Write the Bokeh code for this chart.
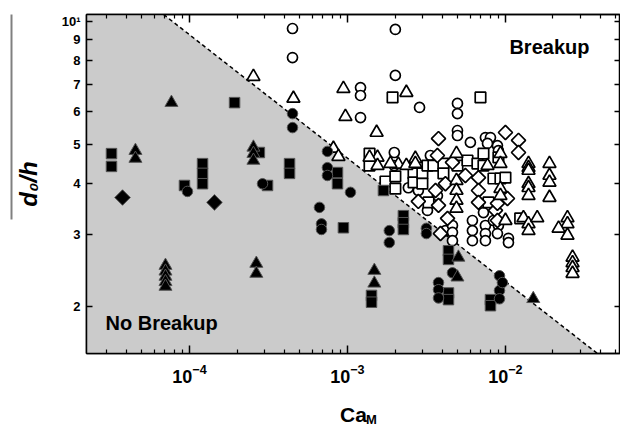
import numpy as np
from bokeh.plotting import figure
from bokeh.models import (FixedTicker, LogAxis, Range1d, Label, CustomJSTickFormatter)
from bokeh.embed import file_html
from bokeh.resources import INLINE

# ---------------- data (Ca_M, d0/h) ----------------
# No breakup (filled symbols)
nb_sq_ca = [3.21e-5, 3.21e-5, 9.30e-5, 1.21e-4, 1.21e-4, 1.21e-4, 1.93e-4, 2.77e-4, 3.12e-4,
            4.30e-4, 4.30e-4, 8.65e-4, 8.65e-4, 9.43e-4, 1.69e-3, 2.26e-3, 2.26e-3, 2.26e-3,
            1.42e-3, 1.42e-3, 4.36e-3, 4.36e-3, 4.36e-3, 4.36e-3, 8.04e-3, 8.04e-3]
nb_sq_d = [4.74, 4.41, 3.96, 4.48, 4.24, 4.00, 6.32, 4.77, 3.96,
           4.48, 4.24, 4.26, 4.00, 3.12, 3.85, 3.34, 3.21, 3.09,
           2.13, 2.05, 2.74, 2.61, 2.16, 2.08, 2.08, 2.01]

nb_ci_ca = [9.71e-5, 2.90e-4, 4.49e-4, 4.49e-4, 6.65e-4, 6.85e-4, 6.85e-4, 7.47e-4, 7.47e-4,
            7.47e-4, 1.045e-3, 1.84e-3, 1.84e-3, 3.16e-3, 3.16e-3, 4.62e-3, 3.77e-3, 3.77e-3,
            3.77e-3, 9.17e-3, 9.17e-3, 9.17e-3, 9.57e-3]
nb_ci_d = [3.83, 4.00, 5.94, 5.49, 3.50, 3.19, 3.09, 4.80, 4.38,
           4.19, 3.81, 3.07, 2.87, 3.11, 3.02, 2.42, 2.29, 2.20,
           2.10, 2.38, 2.19, 2.09, 2.29]

nb_tr_ca = [4.55e-5, 4.55e-5, 7.69e-5, 7.05e-5, 7.05e-5, 7.05e-5, 7.05e-5, 7.05e-5, 2.54e-4,
            2.54e-4, 2.54e-4, 2.65e-4, 2.65e-4, 1.48e-3, 1.48e-3, 5.04e-3, 4.97e-3, 1.50e-2]
nb_tr_d = [4.82, 4.61, 6.32, 2.52, 2.44, 2.37, 2.30, 2.24, 4.91,
           4.74, 4.56, 2.55, 2.41, 2.45, 2.28, 2.64, 2.36, 2.09]

nb_di_ca = [3.77e-5, 1.44e-4]
nb_di_d = [3.70, 3.60]

# Breakup (open symbols)
bu_ci_ca = [4.49e-4, 4.49e-4, 2.01e-3, 2.01e-3, 1.21e-3, 1.21e-3, 1.21e-3, 2.86e-3, 4.97e-3,
            4.97e-3, 4.97e-3, 4.97e-3, 6.00e-3, 7.47e-3, 8.04e-3, 8.90e-3, 9.03e-3, 7.70e-3,
            1.98e-3, 1.98e-3, 2.43e-3, 2.81e-3, 3.35e-3, 3.21e-3, 3.71e-3, 4.17e-3, 4.62e-3,
            4.62e-3, 4.62e-3, 6.18e-3, 6.18e-3, 6.18e-3, 7.26e-3, 7.47e-3, 7.47e-3, 7.47e-3,
            8.40e-3, 9.03e-3, 8.90e-3, 1.045e-2, 1.045e-2]
bu_ci_d = [9.60, 8.15, 9.55, 7.37, 6.88, 6.58, 5.81, 6.15, 6.29,
           5.94, 5.40, 5.25, 5.05, 5.19, 5.19, 4.96, 4.82, 5.02,
           4.77, 4.43, 3.91, 3.85, 4.69, 3.44, 3.74, 3.07, 3.16,
           3.04, 2.90, 3.25, 3.07, 2.90, 3.40, 3.16, 3.02, 2.90,
           3.25, 3.16, 3.02, 2.94, 2.87]

bu_sq_ca = [1.93e-3, 6.95e-3, 1.38e-3, 1.38e-3, 1.74e-3, 2.01e-3, 2.01e-3, 2.62e-3, 2.62e-3,
            2.98e-3, 2.98e-3, 3.21e-3, 3.50e-3, 4.05e-3, 4.05e-3, 3.26e-3, 4.97e-3, 5.75e-3,
            6.65e-3, 7.26e-3, 7.26e-3, 8.40e-3, 9.30e-3, 7.81e-3, 1.24e-2, 9.03e-3, 1.00e-2]
bu_sq_d = [6.51, 6.51, 4.74, 4.43, 4.05, 4.17, 3.89, 4.24, 4.03,
           4.24, 4.00, 4.43, 4.43, 4.48, 4.24, 3.60, 4.43, 4.56,
           4.48, 4.74, 4.43, 4.12, 4.12, 3.60, 3.29, 4.64, 4.14]

bu_tr_ca = [2.54e-4, 4.55e-4, 9.43e-4, 9.71e-4, 2.36e-3, 1.53e-3, 8.15e-4, 8.77e-4, 1.55e-3,
            1.55e-3, 1.38e-3, 2.10e-3, 2.36e-3, 2.69e-3, 2.69e-3, 1.87e-3, 4.90e-3, 4.90e-3,
            4.90e-3, 4.90e-3, 4.90e-3, 7.70e-3, 9.30e-3, 9.30e-3, 9.30e-3, 9.30e-3, 1.00e-2,
            1.30e-2, 1.40e-2, 1.59e-2, 1.40e-2, 1.40e-2, 1.40e-2, 1.40e-2, 1.40e-2, 1.40e-2,
            1.40e-2, 1.90e-2, 1.90e-2, 1.90e-2, 1.90e-2, 2.47e-2, 2.47e-2, 2.17e-2, 2.47e-2,
            2.66e-2, 2.66e-2, 2.66e-2, 2.66e-2]
bu_tr_d = [7.32, 6.47, 6.84, 5.84, 6.69, 5.34, 4.88, 4.66, 4.64,
           4.43, 4.64, 4.46, 4.43, 4.61, 4.48, 4.48, 4.74, 4.07,
           3.85, 3.64, 3.48, 4.43, 4.74, 4.48, 3.89, 3.74, 3.25,
           3.30, 3.19, 3.30, 3.07, 4.48, 4.38, 4.31, 4.00, 3.91,
           3.74, 4.48, 4.19, 4.03, 3.70, 3.30, 3.19, 3.11, 2.99,
           2.64, 2.56, 2.49, 2.41]

bu_di_ca = [3.77e-3, 1.00e-2, 1.21e-2, 1.21e-2, 5.58e-3, 6.75e-3, 6.75e-3, 6.75e-3, 8.65e-3,
            1.03e-2, 4.62e-3, 3.61e-3, 4.17e-3, 2.81e-3, 3.77e-3, 4.30e-3, 3.88e-3, 8.90e-3,
            8.90e-3, 3.71e-3]
bu_di_d = [5.16, 5.34, 5.11, 4.77, 4.19, 4.14, 3.85, 3.60, 3.44,
           3.68, 4.51, 3.85, 4.00, 3.62, 3.54, 3.29, 3.02, 3.25,
           3.58, 4.69]

# breakup boundary (dashed line) end points
boundary_ca = [6.86e-5, 3.82e-2]
boundary_d = [10.39, 1.535]

# axes
x_lim = (2.23e-5, 5.35e-2)
y_lim = (1.535, 10.39)
x_major = [1e-4, 1e-3, 1e-2]
x_minor = [m * 10.0 ** e for e in (-5, -4, -3, -2) for m in range(2, 10)]
y_ticks = [2, 3, 4, 5, 6, 7, 8, 9, 10]
x_label_sub_at = [1.42e-3]   # where the subscript "M" of Ca_M sits

FONT = "Liberation Sans"

p = figure(frame_width=534, frame_height=339, x_axis_type="log", y_axis_type="log",
           x_range=Range1d(*x_lim), y_range=Range1d(*y_lim),
           output_backend="svg", toolbar_location=None,
           min_border_left=86, min_border_right=0, min_border_top=14, min_border_bottom=76)
p.xgrid.visible = False
p.ygrid.visible = False
p.outline_line_color = "black"
p.outline_line_width = 1.5

# shaded no-breakup region and dashed boundary
p.patch([x_lim[0], boundary_ca[0], boundary_ca[1], x_lim[0]],
        [y_lim[1], boundary_d[0], boundary_d[1], y_lim[0]],
        fill_color="#cbcbcb", line_color=None)
p.line(boundary_ca, boundary_d, line_color="black", line_width=1.5, line_dash="4 3")

OPEN = dict(fill_color="white", line_color="black", line_width=1.7)
FILL = dict(fill_color="black", line_color="#555555", line_width=1)

p.scatter(bu_ci_ca, bu_ci_d, marker="circle", size=10, **OPEN)
p.scatter(bu_sq_ca, bu_sq_d, marker="square", size=10.5, **OPEN)
p.scatter(bu_di_ca, bu_di_d, marker="square", angle=np.pi / 4, size=10, **OPEN)
p.scatter(bu_tr_ca, bu_tr_d, marker="triangle", size=13, **OPEN)

p.scatter(nb_sq_ca, nb_sq_d, marker="square", size=10.5, **FILL)
p.scatter(nb_ci_ca, nb_ci_d, marker="circle", size=10.5, **FILL)
p.scatter(nb_di_ca, nb_di_d, marker="square", angle=np.pi / 4, size=11, **FILL)
p.scatter(nb_tr_ca, nb_tr_d, marker="triangle", size=13, **FILL)

p.add_layout(Label(x=1.06e-2, y=8.63, text="Breakup", text_font=FONT, text_font_style="bold",
                   text_font_size="20px", text_baseline="middle", text_color="black"))
p.add_layout(Label(x=2.94e-5, y=1.827, text="No Breakup", text_font=FONT, text_font_style="bold",
                   text_font_size="20px", text_baseline="middle", text_color="black"))


def style_axis(ax, tick_in):
    ax.axis_line_color = "black"
    ax.axis_line_width = 1.5
    ax.major_tick_line_color = "black"
    ax.major_tick_line_width = 1.5
    ax.major_tick_in = tick_in
    ax.major_tick_out = 0
    ax.minor_tick_line_color = "black"
    ax.minor_tick_line_width = 1.2
    ax.minor_tick_in = 4
    ax.minor_tick_out = 0
    ax.major_label_text_color = "black"
    ax.axis_label_text_color = "black"


# bottom axis
xa = p.xaxis[0]
xa.ticker = FixedTicker(ticks=x_major, minor_ticks=x_minor)
style_axis(xa, 8)
xa.major_label_text_font = FONT
xa.major_label_text_font_style = "bold"
xa.major_label_text_font_size = "18px"
xa.major_label_standoff = 10
xa.axis_label = "Ca"
xa.axis_label_text_font = FONT
xa.axis_label_text_font_style = "bold"
xa.axis_label_text_font_size = "21px"
xa.axis_label_standoff = 17

# left axis
ya = p.yaxis[0]
ya.ticker = FixedTicker(ticks=y_ticks, minor_ticks=[])
style_axis(ya, 6)
ya.major_label_text_font = FONT
ya.major_label_text_font_style = "bold"
ya.major_label_text_font_size = "13px"
ya.major_label_standoff = 6
ya.major_label_overrides = {10: "10\u00b9"}
ya.axis_label = "d\u2080/h"
ya.axis_label_text_font = FONT
ya.axis_label_text_font_style = "bold italic"
ya.axis_label_text_font_size = "24px"
ya.axis_label_standoff = 17

blank = CustomJSTickFormatter(code="return ''")

# overline of the y label
ov = LogAxis(ticker=FixedTicker(ticks=[]), formatter=blank, bounds=(3.27, 10.39))
ov.axis_line_color = "#808080"
ov.axis_line_width = 2
ov.major_tick_line_color = None
ov.minor_tick_line_color = None
ov.major_label_standoff = 0
p.add_layout(ov, "left")

# mirrored axes
top = LogAxis(ticker=FixedTicker(ticks=x_major, minor_ticks=x_minor), formatter=blank)
style_axis(top, 8)
top.major_label_standoff = 0
p.add_layout(top, "above")

right = LogAxis(ticker=FixedTicker(ticks=y_ticks, minor_ticks=[]), formatter=blank)
style_axis(right, 6)
right.major_label_standoff = 0
p.add_layout(right, "right")

# subscript "M" of the x label (Ca_M), drawn as a lone tick label of a bare axis
sub = LogAxis(ticker=FixedTicker(ticks=x_label_sub_at, minor_ticks=[]),
              formatter=CustomJSTickFormatter(code="return 'M'"))
sub.axis_line_color = None
sub.major_tick_line_color = None
sub.minor_tick_line_color = None
sub.major_tick_in = 0
sub.major_tick_out = 0
sub.major_label_standoff = -17
sub.major_label_text_font = FONT
sub.major_label_text_font_style = "bold"
sub.major_label_text_font_size = "13px"
sub.major_label_text_color = "black"
p.add_layout(sub, "below")

open("out.html", "w").write(file_html(p, INLINE))
